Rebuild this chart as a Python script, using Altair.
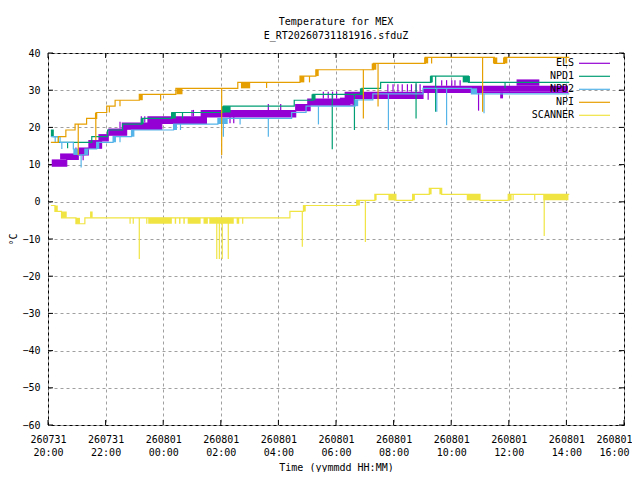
import altair as alt
import pandas as pd

FONT = "DejaVu Sans Mono"
W, H = 576, 372

# ---- axes ----
tick_hours = [0, 2, 4, 6, 8, 10, 12, 14, 16, 18, 20]
tick_dates = ["260731", "260731", "260801", "260801", "260801", "260801",
              "260801", "260801", "260801", "260801", "260801"]
tick_times = ["20:00", "22:00", "00:00", "02:00", "04:00", "06:00",
              "08:00", "10:00", "12:00", "14:00", "16:00"]
y_ticks = [-60, -50, -40, -30, -20, -10, 0, 10, 20, 30, 40]

SERIES = ["ELS", "NPD1", "NPD2", "NPI", "SCANNER"]
COLORS = ["#9400d3", "#009e73", "#56b4e9", "#e69f00", "#f0e442"]

# ---- data: hours since 260731 20:00, temperature in degC ----
# ELS
els_t = [0.13, 0.65, 1.05, 1.40, 1.86, 2.09, 2.73, 3.95, 5.50, 8.60, 9.10, 10.60, 13.02, 18.05]
els_v = [9.6, 11.4, 12.6, 14.4, 16.4, 17.9, 19.5, 21.1, 22.8, 24.5, 26.0, 27.8, 29.4, 29.6]
els_b0 = [0.13, 0.42, 1.05, 1.40, 1.75, 2.09, 2.56, 3.45, 5.30, 8.58, 9.00, 10.14, 10.30, 13.02, 15.10, 16.27, 15.70]
els_b1 = [0.65, 1.05, 1.40, 1.86, 2.09, 2.73, 3.95, 5.50, 8.60, 9.10, 10.50, 10.60, 13.02, 15.10, 18.05, 17.06, 15.80]
els_lo = [9.6, 11.4, 12.6, 14.4, 16.4, 17.9, 19.5, 21.1, 22.8, 24.5, 26.0, 26.3, 27.8, 29.4, 29.6, 31.2, 27.8]
els_hi = [11.4, 13.0, 14.6, 16.6, 18.2, 19.7, 21.3, 23.0, 24.7, 26.3, 27.8, 28.0, 29.6, 31.2, 31.2, 32.9, 29.6]
els_st = [0.97, 1.22, 2.50, 3.24, 3.36, 5.00, 5.05, 6.32, 6.45, 7.65, 8.08, 9.56, 9.73, 9.88, 10.02,
          11.80, 11.98, 12.15, 12.30, 12.48, 12.62, 12.78, 12.92, 13.20, 13.67, 13.84, 14.02, 14.13, 14.31, 14.95]
els_sa = [13.0, 12.6, 19.7, 21.3, 21.3, 23.0, 23.0, 22.8, 22.8, 24.7, 24.7, 27.8, 27.8, 27.8, 27.8,
          29.6, 29.6, 29.6, 29.6, 29.6, 29.6, 29.6, 29.6, 29.4, 31.2, 31.2, 31.2, 31.2, 31.2, 29.4]
els_sb = [14.6, 11.2, 21.5, 23.0, 23.0, 24.7, 24.7, 21.1, 21.1, 26.3, 26.3, 29.6, 29.6, 29.6, 29.6,
          31.6, 31.6, 31.6, 31.6, 31.6, 31.6, 31.6, 31.6, 27.4, 32.7, 32.7, 32.7, 32.7, 32.7, 24.5]

# NPD1
npd1_t = [0.10, 0.18, 0.36, 1.52, 2.07, 2.59, 3.26, 4.30, 6.10, 8.55, 9.20, 10.90, 11.55, 13.30, 14.60, 18.10]
npd1_v = [19.3, 17.5, 16.0, 17.5, 19.3, 20.9, 22.4, 24.0, 25.7, 27.3, 28.9, 30.5, 32.1, 33.8, 32.1, 32.1]
npd1_b0 = [0.10, 3.22, 4.27, 6.03, 9.15, 10.83, 13.26, 14.40]
npd1_b1 = [0.18, 3.32, 4.44, 6.34, 9.29, 10.95, 13.36, 14.65]
npd1_lo = [17.5, 20.9, 22.4, 24.0, 27.3, 28.9, 32.1, 32.1]
npd1_hi = [19.3, 22.4, 24.0, 25.7, 28.9, 30.5, 33.8, 33.8]
npd1_st = [0.68, 4.67, 9.87, 10.64, 12.78, 13.46, 15.87]
npd1_sa = [16.0, 24.0, 28.9, 28.9, 32.1, 33.8, 32.1]
npd1_sb = [14.4, 22.4, 14.1, 19.3, 22.4, 24.2, 30.5]

# NPD2
npd2_t = [0.10, 0.42, 0.88, 1.05, 1.28, 1.69, 2.26, 2.90, 4.36, 5.90, 8.46, 8.96, 10.66, 11.28, 13.02, 14.70, 18.10]
npd2_v = [17.5, 16.0, 14.2, 12.6, 14.2, 16.0, 17.5, 19.3, 20.9, 22.4, 24.0, 25.7, 27.4, 29.0, 30.5, 29.0, 29.0]
npd2_b0 = [0.88, 1.28, 1.69, 2.26, 2.90, 4.36, 5.90, 10.66, 14.70]
npd2_b1 = [1.05, 1.40, 1.78, 2.36, 3.00, 4.48, 6.24, 10.77, 14.90]
npd2_lo = [12.6, 12.6, 14.2, 16.0, 17.5, 19.3, 20.9, 25.7, 29.0]
npd2_hi = [14.2, 14.2, 16.0, 17.5, 19.3, 20.9, 22.4, 27.4, 30.5]
npd2_st = [0.25, 0.48, 1.15, 2.50, 4.60, 6.09, 6.67, 7.65, 9.39, 11.82, 13.50, 13.84, 15.14]
npd2_sa = [17.5, 16.0, 12.6, 17.5, 20.9, 22.4, 22.4, 22.4, 25.7, 29.0, 30.5, 30.5, 29.0]
npd2_sb = [16.0, 14.2, 9.2, 16.0, 19.3, 17.5, 20.8, 17.5, 20.8, 19.3, 24.2, 20.6, 23.8]

# NPI
npi_t = [0.10, 0.36, 0.62, 0.94, 1.34, 1.69, 2.04, 2.33, 3.17, 4.44, 6.59, 8.75, 9.30, 11.30, 13.10, 15.50, 15.85, 18.10]
npi_v = [16.0, 17.5, 19.3, 20.9, 22.4, 24.0, 25.7, 27.3, 28.9, 30.5, 32.1, 33.8, 35.5, 37.2, 38.8, 37.2, 38.8, 38.8]
npi_b0 = [1.63, 3.17, 4.46, 6.70, 8.75, 9.30, 11.24, 13.06, 15.45, 15.80]
npi_b1 = [1.70, 3.29, 4.67, 7.02, 8.90, 9.40, 11.40, 13.20, 15.60, 15.95]
npi_lo = [22.4, 27.3, 28.9, 30.5, 32.1, 33.8, 35.5, 37.2, 37.2, 37.2]
npi_hi = [24.0, 28.9, 30.5, 32.1, 33.8, 35.5, 37.2, 38.8, 38.8, 38.8]
npi_st = [1.05, 1.66, 2.13, 2.50, 3.91, 6.03, 7.59, 9.08, 10.95, 11.46, 13.32, 15.09, 17.99]
npi_sa = [20.9, 22.4, 25.7, 27.3, 28.9, 30.5, 32.1, 33.8, 35.5, 37.2, 38.8, 38.8, 38.8]
npi_sb = [12.6, 16.6, 24.0, 25.7, 27.2, 12.6, 30.6, 32.1, 22.4, 25.6, 37.2, 24.2, 37.2]

# SCANNER
scn_t = [0.10, 0.24, 0.47, 0.97, 1.28, 8.40, 8.87, 10.72, 11.35, 12.08, 12.66, 13.24, 13.67, 15.00, 15.98, 18.10]
scn_v = [-1.0, -2.6, -4.3, -5.9, -4.3, -2.6, -1.0, 0.4, 2.0, 0.4, 2.0, 3.6, 2.0, 0.4, 2.0, 2.0]
scn_b0 = [0.24, 0.47, 0.97, 1.46, 3.48, 4.40, 4.55, 4.70, 4.85, 5.40, 5.60, 6.55, 8.87, 10.72,
          11.35, 11.82, 12.66, 13.24, 13.59, 14.54, 15.98, 17.20]
scn_b1 = [0.34, 0.65, 1.11, 1.55, 4.30, 4.45, 4.60, 4.75, 5.30, 5.55, 6.45, 6.64, 8.95, 10.83,
          11.41, 12.08, 12.74, 13.32, 13.67, 15.00, 16.10, 18.07]
scn_lo = [-2.6, -4.3, -5.9, -4.3, -5.9, -5.9, -5.9, -5.9, -5.9, -5.9, -5.9, -5.9, -2.6, -1.0,
          0.4, 0.4, 0.4, 2.0, 2.0, 0.4, 0.4, 0.4]
scn_hi = [-1.0, -2.6, -4.3, -2.6, -4.3, -4.3, -4.3, -4.3, -4.3, -4.3, -4.3, -4.3, -1.0, 0.4,
          2.0, 2.0, 2.0, 3.6, 3.6, 2.0, 2.0, 2.0]
scn_st = [2.85, 2.96, 3.17, 3.43, 5.86, 5.95, 6.05, 6.26, 6.76, 8.83, 11.02, 16.15, 16.90, 17.23]
scn_sa = [-4.3, -4.3, -4.3, -4.3, -4.3, -4.3, -4.3, -4.3, -4.3, -2.6, 0.4, 2.0, 2.0, 2.0]
scn_sb = [-5.9, -5.9, -15.4, -5.9, -15.4, -15.4, -15.4, -15.4, -5.9, -12.1, -10.8, 0.4, 0.4, -9.2]

DATA = {
    "ELS": (els_t, els_v, els_b0, els_b1, els_lo, els_hi, els_st, els_sa, els_sb),
    "NPD1": (npd1_t, npd1_v, npd1_b0, npd1_b1, npd1_lo, npd1_hi, npd1_st, npd1_sa, npd1_sb),
    "NPD2": (npd2_t, npd2_v, npd2_b0, npd2_b1, npd2_lo, npd2_hi, npd2_st, npd2_sa, npd2_sb),
    "NPI": (npi_t, npi_v, npi_b0, npi_b1, npi_lo, npi_hi, npi_st, npi_sa, npi_sb),
    "SCANNER": (scn_t, scn_v, scn_b0, scn_b1, scn_lo, scn_hi, scn_st, scn_sa, scn_sb),
}

# ---- scales / axes ----
xs = alt.Scale(domain=[0, 20], nice=False, zero=False)
ys = alt.Scale(domain=[-60, 40], nice=False, zero=False)
label_expr = "[" + ",".join("['%s','%s']" % (d, t) for d, t in zip(tick_dates, tick_times)) + \
             "][round(datum.value / 2)]"

x_axis = alt.Axis(values=tick_hours, labelExpr=label_expr, title="Time (yymmdd HH:MM)",
                  grid=True, gridColor="#a0a0a0", gridDash=[3, 3], gridWidth=1,
                  ticks=False, domain=False, labelFont=FONT, labelFontSize=10,
                  labelColor="black", labelPadding=9, labelLineHeight=13,
                  labelBaseline="top", labelFlush=False, labelOverlap=False,
                  labelOffset={"condition": {"test": "datum.value >= 20", "value": -10},
                               "value": 0},
                  titleFont=FONT, titleFontSize=10, titleFontWeight="normal",
                  titleColor="black", titlePadding=5)
y_axis = alt.Axis(values=y_ticks, title="°C", grid=True, gridColor="#a0a0a0",
                  gridDash=[3, 3], gridWidth=1, ticks=False, domain=False,
                  labelFont=FONT, labelFontSize=10, labelColor="black",
                  labelPadding=8, labelFlush=False, labelOverlap=False,
                  titleFont=FONT, titleFontSize=10, titleFontWeight="normal",
                  titleColor="black", titlePadding=3)


def X(f):
    return alt.X(f + ":Q", scale=xs, axis=x_axis)


def Y(f):
    return alt.Y(f + ":Q", scale=ys, axis=y_axis)


layers = []
# inward ticks (gnuplot style) on all four sides
xt = pd.DataFrame({"tick": tick_hours})
yt = pd.DataFrame({"tick": y_ticks})
layers.append(alt.Chart(xt).mark_rule(color="black").encode(
    x=X("tick"), y=alt.value(H), y2=alt.value(H - 5)))
layers.append(alt.Chart(xt).mark_rule(color="black").encode(
    x=X("tick"), y=alt.value(0), y2=alt.value(5)))
layers.append(alt.Chart(yt).mark_rule(color="black").encode(
    y=Y("tick"), x=alt.value(0), x2=alt.value(5)))
layers.append(alt.Chart(yt).mark_rule(color="black").encode(
    y=Y("tick"), x=alt.value(W), x2=alt.value(W - 5)))

for name, col in zip(SERIES, COLORS):
    t, v, b0, b1, lo, hi, st, sa, sb = DATA[name]
    bands = pd.DataFrame({"t0": b0, "t1": b1, "lo": lo, "hi": hi})
    steps = pd.DataFrame({"t": t, "v": v})
    spikes = pd.DataFrame({"t": st, "a": sa, "b": sb})
    layers.append(alt.Chart(bands).mark_rect(color=col).encode(
        x=X("t0"), x2="t1:Q", y=Y("lo"), y2="hi:Q"))
    layers.append(alt.Chart(steps).mark_line(color=col, strokeWidth=1.2,
                                             interpolate="step-after").encode(
        x=X("t"), y=Y("v")))
    layers.append(alt.Chart(spikes).mark_rule(color=col, strokeWidth=1.2).encode(
        x=X("t"), y=Y("a"), y2="b:Q"))

# gnuplot-style key, top right inside the plot
for i, (name, col) in enumerate(zip(SERIES, COLORS)):
    row = pd.DataFrame({"name": [name]})
    ypx = 10.3 + 13 * i
    layers.append(alt.Chart(row).mark_text(align="right", baseline="middle", font=FONT,
                                           fontSize=10, color="black").encode(
        text="name:N", x=alt.value(526), y=alt.value(ypx)))
    layers.append(alt.Chart(row).mark_rule(color=col, strokeWidth=1.2).encode(
        x=alt.value(531), x2=alt.value(562), y=alt.value(ypx)))

chart = alt.layer(*layers).properties(
    width=W, height=H,
    autosize=alt.AutoSizeParams(type="none"),
    padding={"left": 40, "top": 45, "right": 8, "bottom": 47},
    title=alt.TitleParams(["Temperature for MEX", "E_RT20260731181916.sfduZ"],
                          font=FONT, fontSize=10, fontWeight="normal", color="black",
                          anchor="middle", offset=7, lineHeight=14),
).configure(background="white").configure_view(stroke="black", strokeWidth=1)

chart.save("out.html", embed_options={"renderer": "svg", "actions": False})
